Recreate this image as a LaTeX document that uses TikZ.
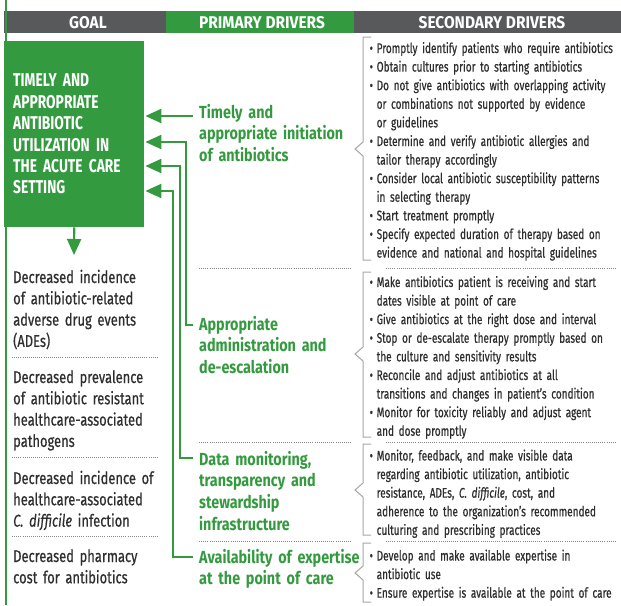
\documentclass[tikz,border=0pt]{standalone}
\usepackage{fontspec}
\setmainfont{Fira Sans}
\newfontfamily\secf[FakeStretch=0.715,FakeBold=0.6]{Fira Sans}
\newfontfamily\outf[FakeStretch=0.76,FakeBold=0.6]{Fira Sans}
\newfontfamily\prif[FakeStretch=0.82]{Fira Sans}
\newfontfamily\goalf[FakeStretch=0.745]{Fira Sans}
\newfontfamily\hdrf[FakeStretch=0.91]{Fira Sans}
\usetikzlibrary{arrows.meta}
\definecolor{dgreen}{HTML}{349A3F}
\definecolor{hgrey}{HTML}{58595B}
\definecolor{tgrey}{HTML}{2E2E2E}
\definecolor{bgrey}{HTML}{A6A6A6}
\definecolor{dotgrey}{HTML}{8A8A8A}
\newcommand\bul{\makebox[7pt][l]{•}}
\newcommand\ind{\hspace*{7pt}}
\tikzset{
  hdrtxt/.style={text=white,font=\hdrf\bfseries\fontsize{17}{20}\selectfont,inner sep=0pt},
  goalbox/.style={fill=dgreen,draw=none,text=white,align=left,text width=122pt,
     minimum width=140pt,minimum height=186pt,inner xsep=0pt,inner ysep=0pt,anchor=north west,
     font=\goalf\bfseries\fontsize{18.5}{21.4}\selectfont},
  outtxt/.style={text=tgrey,align=left,text width=200pt,anchor=base west,inner sep=0pt,
     font=\outf\fontsize{17}{21.3}\selectfont},
  pritxt/.style={text=dgreen,align=left,text width=200pt,anchor=base west,inner sep=0pt,
     font=\prif\bfseries\fontsize{17.5}{21.7}\selectfont},
  sectxt/.style={text=tgrey,align=left,text width=300pt,anchor=base west,inner sep=0pt,
     font=\secf\fontsize{14}{18.6}\selectfont},
  arr/.style={draw=dgreen,line width=2.2pt,line join=miter,-{Triangle[length=16pt,width=14pt]}},
  sep/.style={draw=dotgrey,line width=0.8pt,dash pattern=on 0.8pt off 1.3pt},
  brace/.style={draw=bgrey,line width=1pt}
}
\begin{document}
\begin{tikzpicture}[x=1pt,y=-1pt]
\useasboundingbox (0,0) rectangle (621,605);
% header
\fill[hgrey] (4,11) rectangle (166,33);
\fill[dgreen] (166,11) rectangle (354,33);
\fill[hgrey] (354,11) rectangle (621,33);
\node[hdrtxt] (hgoal) at (88,22.5) {GOAL};
\node[hdrtxt] (hpri) at (262,22.5) {PRIMARY DRIVERS};
\node[hdrtxt] (hsec) at (492,22.5) {SECONDARY DRIVERS};
% goal box
\node[goalbox] (goal) at (4,41) {TIMELY AND\\APPROPRIATE\\ANTIBIOTIC\\UTILIZATION IN\\THE ACUTE CARE\\SETTING};
% left green rule
\draw[dgreen,line width=2pt] (6,0) -- (6,605);
% outcomes
\coordinate (down) at (74,255);
\draw[arr] (goal.south) -- (down);
\node[outtxt] (o1) at (13,283) {Decreased incidence\\of antibiotic-related\\adverse drug events\\(ADEs)};
\node[outtxt] (o2) at (13,383) {Decreased prevalence\\of antibiotic resistant\\healthcare-associated\\pathogens};
\node[outtxt] (o3) at (13,484) {Decreased incidence of\\healthcare-associated\\\textit{C. difficile} infection};
\node[outtxt] (o4) at (13,562) {Decreased pharmacy\\cost for antibiotics};
\draw[sep] (12,357) -- (157,357);
\draw[sep] (12,457) -- (157,457);
\draw[sep] (12,536) -- (157,536);
% primary drivers
\node[pritxt] (p1) at (199,118) {Timely and\\appropriate initiation\\of antibiotics};
\node[pritxt] (p2) at (199,330) {Appropriate\\administration and\\de-escalation};
\node[pritxt] (p3) at (199,465) {Data monitoring,\\transparency and\\stewardship\\infrastructure};
\node[pritxt] (p4) at (199,563) {Availability of expertise\\at the point of care};
\draw[sep] (199,268) -- (352,268);
\draw[sep] (199,442) -- (352,442);
\draw[sep] (199,541) -- (352,541);
\draw[sep] (386,268) -- (616,268);
\draw[sep] (386,442) -- (616,442);
\draw[sep] (386,541) -- (616,541);
% connectors
\coordinate (y1) at (0,116);
\coordinate (y2) at (0,142);
\coordinate (y3) at (0,166);
\coordinate (y4) at (0,191);
\coordinate (s1) at (193,116);
\coordinate (s2) at (193,325);
\coordinate (s3) at (193,458);
\coordinate (s4) at (193,557);
\draw[arr] (s1) -- ([xshift=1pt]goal.east |- y1);
\draw[arr] (s2) -- ++(-7,0) |- ([xshift=1pt]goal.east |- y2);
\draw[arr] (s3) -- ++(-13,0) |- ([xshift=1pt]goal.east |- y3);
\draw[arr] (s4) -- ++(-20,0) |- ([xshift=1pt]goal.east |- y4);
% braces
\draw[brace] (371,37) -- (363,37) -- (363,142) -- (355,149) -- (363,156) -- (363,260) -- (371,260);
\draw[brace] (371,272) -- (363,272) -- (363,347) -- (355,354) -- (363,361) -- (363,437) -- (371,437);
\draw[brace] (371,444) -- (363,444) -- (363,483) -- (355,490) -- (363,497) -- (363,535) -- (371,535);
\draw[brace] (371,543) -- (363,543) -- (363,566) -- (355,573) -- (363,580) -- (363,602) -- (371,602);
% secondary drivers
\node[sectxt] (d1) at (369.5,53) {\bul Promptly identify patients who require antibiotics\\
\bul Obtain cultures prior to starting antibiotics\\
\bul Do not give antibiotics with overlapping activity\\
\ind or combinations not supported by evidence\\
\ind or guidelines\\
\bul Determine and verify antibiotic allergies and\\
\ind tailor therapy accordingly\\
\bul Consider local antibiotic susceptibility patterns\\
\ind in selecting therapy\\
\bul Start treatment promptly\\
\bul Specify expected duration of therapy based on\\
\ind evidence and national and hospital guidelines};
\node[sectxt] (d2) at (369.5,287) {\bul Make antibiotics patient is receiving and start\\
\ind dates visible at point of care\\
\bul Give antibiotics at the right dose and interval\\
\bul Stop or de-escalate therapy promptly based on\\
\ind the culture and sensitivity results\\
\bul Reconcile and adjust antibiotics at all\\
\ind transitions and changes in patient’s condition\\
\bul Monitor for toxicity reliably and adjust agent\\
\ind and dose promptly};
\node[sectxt] (d3) at (369.5,460.5) {\bul Monitor, feedback, and make visible data\\
\ind regarding antibiotic utilization, antibiotic\\
\ind resistance, ADEs, \textit{C. difficile}, cost, and\\
\ind adherence to the organization’s recommended\\
\ind culturing and prescribing practices};
\node[sectxt] (d4) at (369.5,560.5) {\bul Develop and make available expertise in\\
\ind antibiotic use\\
\bul Ensure expertise is available at the point of care};
\end{tikzpicture}
\end{document}
